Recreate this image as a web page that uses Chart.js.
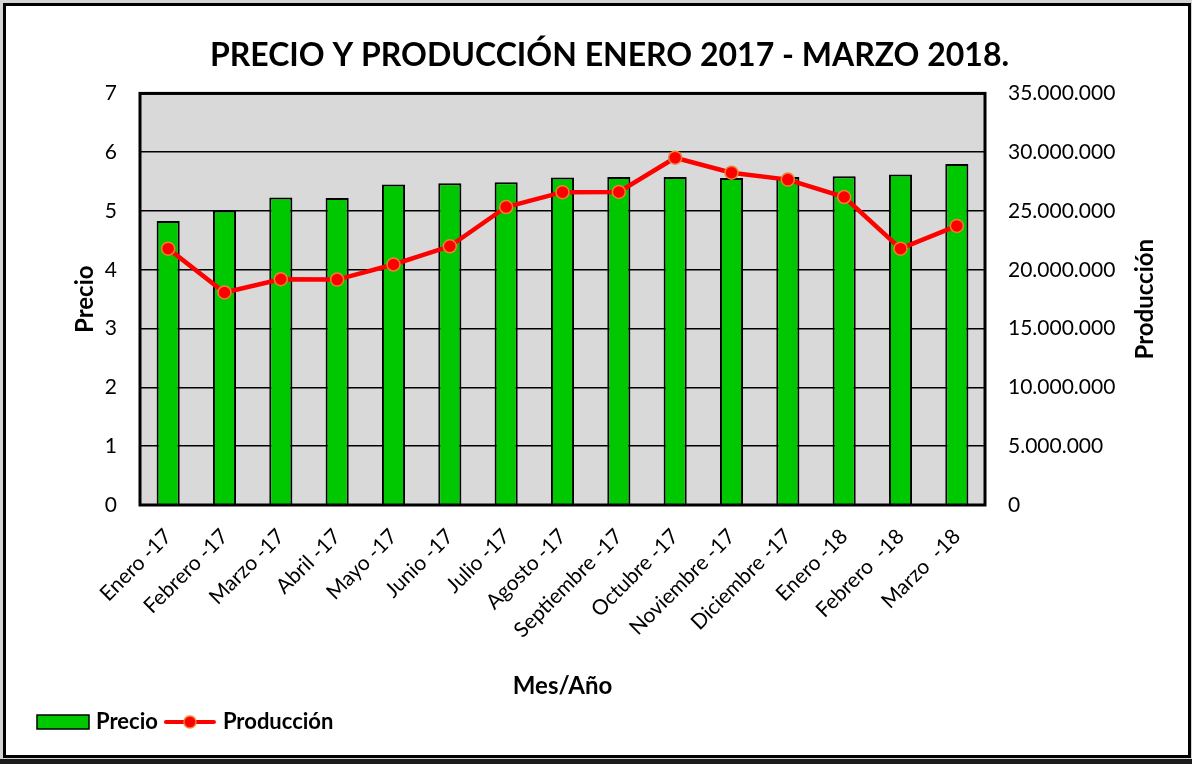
<!DOCTYPE html>
<html>
<head>
<meta charset="utf-8">
<script src="https://cdn.jsdelivr.net/npm/chart.js@4"></script>
<style>
  html, body { margin: 0; padding: 0; background: #d4d4d4; }
  #strip { position: absolute; left: 0; top: 759px; width: 1192px; height: 5px; background: #1c1c1c; }
  #frame { position: absolute; left: 3px; top: 3px; width: 1182px; height: 749px; border: 3px solid #000; background: #fff; }
  #frame canvas { display: block; }
</style>
</head>
<body>
<div id="strip"></div>
<div id="frame"><canvas id="precioChart" width="1182" height="749"></canvas></div>
<script>
// data
const meses = ['Enero -17', 'Febrero -17', 'Marzo -17', 'Abril -17', 'Mayo -17', 'Junio -17', 'Julio -17',
    'Agosto -17', 'Septiembre -17', 'Octubre -17', 'Noviembre -17', 'Diciembre -17', 'Enero -18', 'Febrero  -18', 'Marzo  -18'];
const precio = [4.83, 5.01, 5.23, 5.22, 5.45, 5.47, 5.49, 5.57, 5.58, 5.58, 5.56, 5.58, 5.59, 5.62, 5.80];
const produccion = [21800000, 18070000, 19200000, 19170000, 20450000, 22000000, 25340000, 26600000,
    26620000, 29530000, 28260000, 27670000, 26190000, 21800000, 23730000];
const precioTicks = [0, 7, 1];             // min, max, step
const produccionTicks = [0, 35000000, 5000000];

const FONT = "Lato, 'Open Sans', sans-serif";
Chart.defaults.font.family = FONT;
Chart.defaults.color = '#000';

// legend swatches, drawn once as small canvases
function swatch(kind) {
    const c = document.createElement('canvas');
    c.width = 54; c.height = 18;
    const g = c.getContext('2d');
    if (kind === 'bar') {
        g.fillStyle = '#00c800';
        g.fillRect(1, 2, 52, 14);
        g.strokeStyle = '#000';
        g.lineWidth = 1.5;
        g.strokeRect(1, 2, 52, 14);
    } else {
        g.strokeStyle = '#ff0000';
        g.lineWidth = 4;
        g.lineCap = 'round';
        g.beginPath(); g.moveTo(3, 9); g.lineTo(51, 9); g.stroke();
        g.beginPath(); g.arc(27, 9, 6, 0, Math.PI * 2);
        g.fillStyle = '#ff0000'; g.fill();
        g.strokeStyle = '#f08030'; g.lineWidth = 1.5; g.stroke();
    }
    return c;
}

// grey plot area with black frame, and the right axis title reading upwards
const plotArea = {
    id: 'plotArea',
    beforeDraw(chart) {
        const a = chart.chartArea, ctx = chart.ctx;
        ctx.save();
        ctx.fillStyle = '#d9d9d9';
        ctx.fillRect(a.left, a.top, a.right - a.left, a.bottom - a.top);
        ctx.restore();
    },
    afterDraw(chart) {
        const a = chart.chartArea, ctx = chart.ctx;
        ctx.save();
        ctx.strokeStyle = '#000';
        ctx.lineWidth = 3;
        ctx.strokeRect(a.left, a.top, a.right - a.left, a.bottom - a.top);
        ctx.translate(1139, (a.top + a.bottom) / 2);
        ctx.rotate(-Math.PI / 2);
        ctx.font = 'bold 24px ' + FONT;
        ctx.fillStyle = '#000';
        ctx.textAlign = 'center';
        ctx.textBaseline = 'middle';
        ctx.fillText('Producción', 0, 0);
        ctx.restore();
    }
};

const ctx = document.getElementById('precioChart').getContext('2d');
new Chart(ctx, {
    type: 'bar',
    data: {
        labels: meses,
        datasets: [{
            type: 'line',
            label: 'Producción',
            data: produccion,
            yAxisID: 'y1',
            borderColor: '#ff0000',
            borderWidth: 4.5,
            pointRadius: 6.5,
            pointBackgroundColor: '#ff0000',
            pointBorderColor: '#f08030',
            pointBorderWidth: 1.5,
            tension: 0,
            order: 1
        }, {
            label: 'Precio',
            data: precio,
            yAxisID: 'y',
            backgroundColor: '#00c800',
            borderColor: '#000',
            borderWidth: 2,
            categoryPercentage: 1,
            barPercentage: 0.41,
            order: 2
        }]
    },
    options: {
        responsive: false,
        animation: false,
        layout: { padding: { left: 25, right: 0, top: 0, bottom: 12 } },
        scales: {
            x: {
                grid: { display: false },
                border: { display: false },
                ticks: {
                    autoSkip: false,
                    maxRotation: 45,
                    minRotation: 45,
                    padding: 11,
                    font: { size: 21 }
                },
                title: {
                    display: true,
                    text: 'Mes/Año',
                    font: { size: 24, weight: 'bold' },
                    padding: { top: 9, bottom: 0 }
                },
                afterFit: s => { s.height = 196; }
            },
            y: {
                position: 'left',
                min: precioTicks[0],
                max: precioTicks[1],
                grid: { color: '#000', lineWidth: 1.5, drawTicks: false },
                border: { display: false },
                ticks: { stepSize: precioTicks[2], padding: 23, font: { size: 21 } },
                title: {
                    display: true,
                    text: 'Precio',
                    font: { size: 24, weight: 'bold' },
                    padding: { top: 40, bottom: 0 }
                },
                afterFit: s => { s.width = 109; }
            },
            y1: {
                position: 'right',
                min: produccionTicks[0],
                max: produccionTicks[1],
                grid: { drawOnChartArea: false, drawTicks: false },
                border: { display: false },
                ticks: {
                    stepSize: produccionTicks[2],
                    padding: 23,
                    font: { size: 21 },
                    callback: v => v.toLocaleString('de-DE')
                },
                afterFit: s => { s.width = 203; }
            }
        },
        plugins: {
            title: {
                display: true,
                text: 'PRECIO Y PRODUCCIÓN ENERO 2017 - MARZO 2018.',
                color: '#000',
                font: { size: 32, weight: 'bold' },
                padding: { top: 30, bottom: 19 }
            },
            legend: {
                position: 'bottom',
                align: 'start',
                labels: {
                    usePointStyle: true,
                    pointStyleWidth: 44,
                    padding: 10,
                    color: '#000',
                    font: { size: 22, weight: 'bold' },
                    generateLabels: chart => [
                        { text: 'Precio', pointStyle: swatch('bar'), datasetIndex: 1, hidden: false, lineWidth: 0, fontColor: '#000' },
                        { text: 'Producción', pointStyle: swatch('line'), datasetIndex: 0, hidden: false, lineWidth: 0, fontColor: '#000' }
                    ]
                }
            },
            tooltip: { enabled: false }
        }
    },
    plugins: [plotArea]
});
</script>
</body>
</html>
